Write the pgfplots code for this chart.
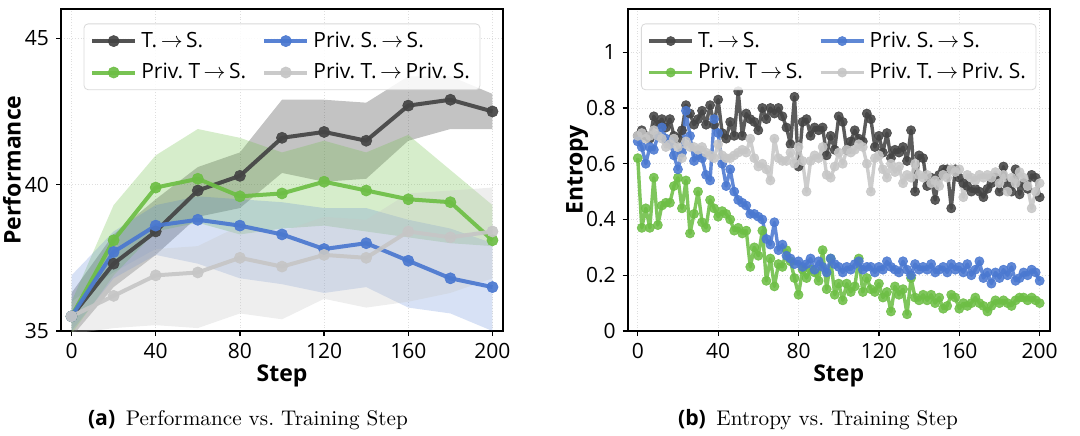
\documentclass[border=0pt]{standalone}
\usepackage{fontspec}
\usepackage{pgfplots}
\pgfplotsset{compat=1.18}
\usepackage{pgfplotstable}
\usepgfplotslibrary{fillbetween}
\newfontfamily\cf{Open Sans}
\definecolor{cblack}{HTML}{444444}
\definecolor{cgreen}{HTML}{6DBE45}
\definecolor{cblue}{HTML}{4A78D0}
\definecolor{cgray}{HTML}{C6C6C6}

\pgfplotstableread{
x m lo hi
0 35.5 34.8 36.3
20 37.3 36.5 38.3
40 38.4 37.6 39.5
60 39.8 38.9 40.6
80 40.3 39.2 41.1
100 41.6 40.4 42.9
120 41.8 40.1 42.9
140 41.5 40.2 42.8
160 42.7 41.5 43.7
180 42.9 41.9 43.7
200 42.5 41.9 43.1
}\tblack
\pgfplotstableread{
x m lo hi
0 35.5 34.9 36.0
20 38.1 36.9 39.3
40 39.9 38.4 41.0
60 40.2 38.7 41.9
80 39.6 38.3 41.6
100 39.7 38.5 41.1
120 40.1 38.6 41.5
140 39.8 38.4 41.1
160 39.5 38.2 41.7
180 39.4 38.0 40.5
200 38.1 37.9 39.3
}\tgreen
\pgfplotstableread{
x m lo hi
0 35.5 35.0 36.9
20 37.7 36.8 38.4
40 38.6 37.6 39.3
60 38.8 37.3 39.6
80 38.6 36.8 39.5
100 38.3 36.6 39.4
120 37.8 36.3 39.2
140 38.0 36.5 39.2
160 37.4 35.8 38.8
180 36.8 35.6 38.5
200 36.5 35.0 38.0
}\tblue
\pgfplotstableread{
x m lo hi
0 35.5 34.9 36.0
20 36.2 35.1 37.0
40 36.9 35.2 37.8
60 37.0 35.1 37.9
80 37.5 35.6 38.6
100 37.2 35.4 38.4
120 37.6 36.1 38.9
140 37.5 35.8 38.8
160 38.4 36.0 39.7
180 38.2 36.3 39.8
200 38.4 36.8 39.9
}\tgray

\pgfplotstableread{
x k g b l
0 0.70 0.62 0.68 0.70
2 0.72 0.37 0.66 0.71
4 0.70 0.44 0.60 0.69
6 0.69 0.37 0.66 0.70
8 0.77 0.55 0.65 0.72
10 0.74 0.38 0.70 0.70
12 0.76 0.45 0.73 0.69
14 0.73 0.46 0.69 0.66
16 0.76 0.46 0.68 0.67
18 0.70 0.52 0.63 0.69
20 0.69 0.55 0.58 0.66
22 0.72 0.44 0.64 0.62
24 0.81 0.54 0.79 0.68
26 0.78 0.35 0.70 0.66
28 0.74 0.42 0.61 0.66
30 0.76 0.50 0.63 0.65
32 0.79 0.39 0.62 0.66
34 0.74 0.37 0.56 0.64
36 0.81 0.47 0.54 0.63
38 0.74 0.44 0.76 0.62
40 0.83 0.41 0.71 0.67
42 0.71 0.43 0.60 0.63
44 0.69 0.42 0.52 0.62
46 0.75 0.40 0.58 0.62
48 0.70 0.36 0.50 0.63
50 0.86 0.37 0.47 0.64
52 0.70 0.35 0.46 0.65
54 0.78 0.36 0.45 0.64
56 0.76 0.23 0.42 0.69
58 0.75 0.30 0.42 0.62
60 0.72 0.27 0.41 0.59
62 0.80 0.36 0.40 0.60
64 0.76 0.18 0.33 0.58
66 0.80 0.26 0.31 0.54
68 0.78 0.16 0.39 0.69
70 0.80 0.24 0.29 0.62
72 0.77 0.23 0.31 0.61
74 0.73 0.29 0.27 0.61
76 0.67 0.25 0.26 0.64
78 0.84 0.19 0.24 0.60
80 0.59 0.13 0.25 0.66
82 0.75 0.22 0.23 0.61
84 0.76 0.19 0.24 0.50
86 0.70 0.22 0.26 0.61
88 0.73 0.21 0.22 0.63
90 0.72 0.18 0.25 0.62
92 0.73 0.29 0.23 0.66
94 0.63 0.15 0.21 0.56
96 0.70 0.26 0.26 0.55
98 0.65 0.13 0.24 0.59
100 0.77 0.17 0.23 0.64
102 0.75 0.11 0.21 0.60
104 0.65 0.17 0.23 0.65
106 0.68 0.14 0.22 0.64
108 0.72 0.16 0.24 0.65
110 0.69 0.26 0.25 0.67
112 0.68 0.14 0.22 0.66
114 0.78 0.19 0.23 0.60
116 0.76 0.15 0.23 0.50
118 0.66 0.14 0.21 0.62
120 0.70 0.17 0.23 0.63
122 0.64 0.12 0.22 0.58
124 0.71 0.14 0.25 0.55
126 0.62 0.07 0.23 0.60
128 0.65 0.16 0.22 0.57
130 0.64 0.13 0.21 0.59
132 0.66 0.15 0.25 0.53
134 0.61 0.06 0.22 0.56
136 0.72 0.19 0.20 0.55
138 0.50 0.12 0.24 0.60
140 0.63 0.11 0.22 0.56
142 0.62 0.13 0.23 0.55
144 0.52 0.11 0.22 0.56
146 0.55 0.13 0.24 0.53
148 0.47 0.10 0.21 0.54
150 0.56 0.12 0.22 0.52
152 0.58 0.08 0.23 0.56
154 0.58 0.09 0.21 0.55
156 0.44 0.13 0.24 0.58
158 0.58 0.12 0.22 0.57
160 0.55 0.08 0.23 0.58
162 0.53 0.10 0.21 0.48
164 0.52 0.09 0.24 0.56
166 0.50 0.10 0.20 0.55
168 0.51 0.12 0.22 0.54
170 0.50 0.10 0.25 0.56
172 0.48 0.09 0.19 0.55
174 0.51 0.07 0.21 0.56
176 0.53 0.09 0.17 0.55
178 0.55 0.11 0.21 0.57
180 0.50 0.10 0.19 0.53
182 0.59 0.11 0.22 0.56
184 0.52 0.10 0.20 0.50
186 0.50 0.09 0.23 0.55
188 0.58 0.11 0.18 0.53
190 0.49 0.12 0.19 0.57
192 0.53 0.12 0.21 0.55
194 0.51 0.11 0.20 0.52
196 0.56 0.12 0.22 0.44
198 0.55 0.11 0.21 0.50
200 0.48 0.10 0.18 0.53
}\tent

\pgfplotsset{
  mystyle/.style={
    scale only axis, anchor=south west,
    xmin=-5, xmax=205, xtick={0,40,...,200},
    axis line style={line width=1pt, black},
    tick align=outside, xtick pos=bottom, ytick pos=left,
    major tick length=2.5pt, tick style={black, line width=0.6pt},
    grid=major, major grid style={densely dotted, black!13, line width=0.4pt},
    tick label style={font=\cf\fontsize{10.5}{12}\selectfont},
    /pgf/number format/assume math mode=true,
    label style={font=\cf\bfseries\fontsize{11.5}{13}\selectfont},
    xlabel=Step,
    xlabel style={at={(rel axis cs:0.5,0)}, anchor=center, yshift=-22.5pt},
    legend columns=2, transpose legend,
    legend style={at={(0.5,0.955)}, anchor=north, draw=black!15, rounded corners=2pt,
      fill=white, fill opacity=0.85, text opacity=1, row sep=2.5pt,
      font=\cf\fontsize{10.5}{12.5}\selectfont, inner xsep=3pt, inner ysep=2pt,
      /tikz/every even column/.append style={column sep=6pt}},
    legend cell align=left,
    legend image code/.code={\draw[mark repeat=2,mark phase=2] plot coordinates {(0cm,0cm) (0.38cm,0cm) (0.76cm,0cm)};},
  },
  band/.style 2 args={fill=#1, fill opacity=#2, draw=none, forget plot},
  pl/.style={color=#1, line width=2pt, line join=round, mark=*, mark size=2.8pt, opacity=0.92, mark options={line width=0.3pt}},
  pr/.style={color=#1, line width=1.7pt, line join=round, mark=*, mark size=2.3pt, opacity=0.88, mark options={line width=0.3pt}},
}

\begin{document}
\begin{tikzpicture}

\begin{axis}[mystyle, at={(30.5pt,52pt)}, width=221pt, height=161pt,
  ymin=35, ymax=46, ytick={35,40,45}, ylabel=Performance,
  ylabel style={at={(rel axis cs:0,0.5)}, anchor=center, yshift=24.5pt}]
  \addplot[draw=none, name path=ku, forget plot] table[x=x,y=hi]{\tblack};
  \addplot[draw=none, name path=kl, forget plot] table[x=x,y=lo]{\tblack};
  \addplot[band={cblack}{0.32}] fill between[of=ku and kl];
  \addplot[draw=none, name path=gu, forget plot] table[x=x,y=hi]{\tgreen};
  \addplot[draw=none, name path=gl, forget plot] table[x=x,y=lo]{\tgreen};
  \addplot[band={cgreen}{0.28}] fill between[of=gu and gl];
  \addplot[draw=none, name path=bu, forget plot] table[x=x,y=hi]{\tblue};
  \addplot[draw=none, name path=bl, forget plot] table[x=x,y=lo]{\tblue};
  \addplot[band={cblue}{0.22}] fill between[of=bu and bl];
  \addplot[draw=none, name path=lu, forget plot] table[x=x,y=hi]{\tgray};
  \addplot[draw=none, name path=ll, forget plot] table[x=x,y=lo]{\tgray};
  \addplot[band={cgray}{0.3}] fill between[of=lu and ll];
  \addplot[pl=cblack] table[x=x,y=m]{\tblack};
  \addlegendentry{T.\,$\rightarrow$\,S.}
  \addplot[pl=cgreen] table[x=x,y=m]{\tgreen};
  \addlegendentry{Priv.\ T\,$\rightarrow$\,S.}
  \addplot[pl=cblue] table[x=x,y=m]{\tblue};
  \addlegendentry{Priv.\ S.\,$\rightarrow$\,S.}
  \addplot[pl=cgray] table[x=x,y=m]{\tgray};
  \addlegendentry{Priv.\ T.\,$\rightarrow$\,Priv.\ S.}
\end{axis}

\begin{axis}[mystyle, at={(313.85pt,52pt)}, width=211pt, height=161pt,
  ymin=0, ymax=1.155, ytick={0,0.2,0.4,0.6,0.8,1}, ylabel=Entropy,
  ylabel style={at={(rel axis cs:0,0.5)}, anchor=center, yshift=25.3pt},
  yticklabel style={/pgf/number format/fixed}]
  \addplot[pr=cblack] table[x=x,y=k]{\tent};
  \addlegendentry{T.\,$\rightarrow$\,S.}
  \addplot[pr=cgreen] table[x=x,y=g]{\tent};
  \addlegendentry{Priv.\ T\,$\rightarrow$\,S.}
  \addplot[pr=cblue] table[x=x,y=b]{\tent};
  \addlegendentry{Priv.\ S.\,$\rightarrow$\,S.}
  \addplot[pr=cgray] table[x=x,y=l]{\tent};
  \addlegendentry{Priv.\ T.\,$\rightarrow$\,Priv.\ S.}
\end{axis}

\node[anchor=base, font=\fontsize{10.6}{13}\selectfont] at (124pt,5pt) {{\cf\bfseries (a)}\enspace Performance vs.\ Training Step};
\node[anchor=base, font=\fontsize{10.6}{13}\selectfont] at (409pt,5pt) {{\cf\bfseries (b)}\enspace Entropy vs.\ Training Step};
\pgfresetboundingbox
\path[use as bounding box] (0,0) rectangle (540pt,217.5pt);
\end{tikzpicture}
\end{document}
